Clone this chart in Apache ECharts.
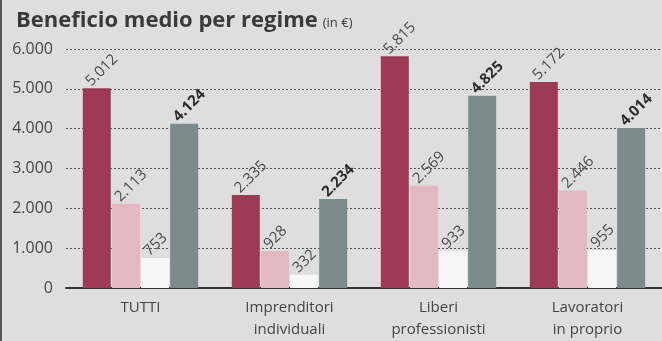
<!DOCTYPE html>
<html><head><meta charset="utf-8">
<script src="https://cdn.jsdelivr.net/npm/echarts@6/dist/echarts.min.js"></script>
<style>html,body{margin:0;padding:0;background:#dedede;}#c{width:662px;height:341px;}</style>
</head><body><div id="c"></div>
<script>
const categories = ['TUTTI', 'Imprenditori\nindividuali', 'Liberi\nprofessionisti', 'Lavoratori\nin proprio'];
const serieA = [5012, 2335, 5815, 5172];
const serieB = [2113, 928, 2569, 2446];
const serieC = [753, 332, 933, 955];
const serieD = [4124, 2234, 4825, 4014];
const yTicks = [0, 1000, 2000, 3000, 4000, 5000, 6000];

const fmt = v => String(v).replace(/\B(?=(\d{3})+(?!\d))/g, '.');
const FONT = 'Open Sans';
function lab(bold) {
  return {
    show: true, position: 'top', distance: 13, rotate: 45, align: 'left', verticalAlign: 'middle',
    offset: [-12, 0],
    color: bold ? '#2e2e2e' : '#4a4a4a', fontFamily: FONT, fontSize: 15, fontWeight: bold ? 'bold' : 'normal',
    formatter: p => fmt(p.value)
  };
}
function ser(data, color, bold) {
  return { type: 'bar', data: data, barWidth: 28, barGap: '4%', itemStyle: { color: color }, label: lab(bold) };
}
const chart = echarts.init(document.getElementById('c'));
chart.setOption({
  backgroundColor: '#dedede',
  animation: false,
  title: {
    left: 11, top: 5,
    text: '{a|Beneficio medio per regime} {b|(in €)}',
    textStyle: { rich: {
      a: { fontFamily: FONT, fontSize: 22, fontWeight: 'bold', color: '#3a3a3a', letterSpacing: -0.5 },
      b: { fontFamily: FONT, fontSize: 13, fontWeight: 'normal', color: '#3a3a3a', padding: [5, 0, 0, 0] }
    } }
  },
  grid: { left: 66, right: -6, top: 49, bottom: 53 },
  xAxis: {
    type: 'category', data: categories,
    axisLine: { lineStyle: { color: '#333', width: 2 } },
    axisTick: { show: false },
    axisLabel: { color: '#444', fontFamily: FONT, fontSize: 15, lineHeight: 22, margin: 9 }
  },
  yAxis: {
    type: 'value', min: 0, max: 6000, interval: 1000,
    axisLine: { show: false }, axisTick: { show: false },
    axisLabel: { color: '#444', fontFamily: FONT, fontSize: 16, margin: 13,
      formatter: v => yTicks.includes(v) ? fmt(v) : '' },
    splitLine: { lineStyle: { color: '#555', type: [2, 2], width: 1 } }
  },
  series: [
    ser(serieA, '#9c3a56', false),
    ser(serieB, '#e2b8c3', false),
    ser(serieC, '#f7f7f7', false),
    ser(serieD, '#7b8a8c', true)
  ],
  graphic: [{ type: 'rect', left: 0, top: 0, shape: { width: 2, height: 341 }, style: { fill: '#555' } }]
});
</script></body></html>
